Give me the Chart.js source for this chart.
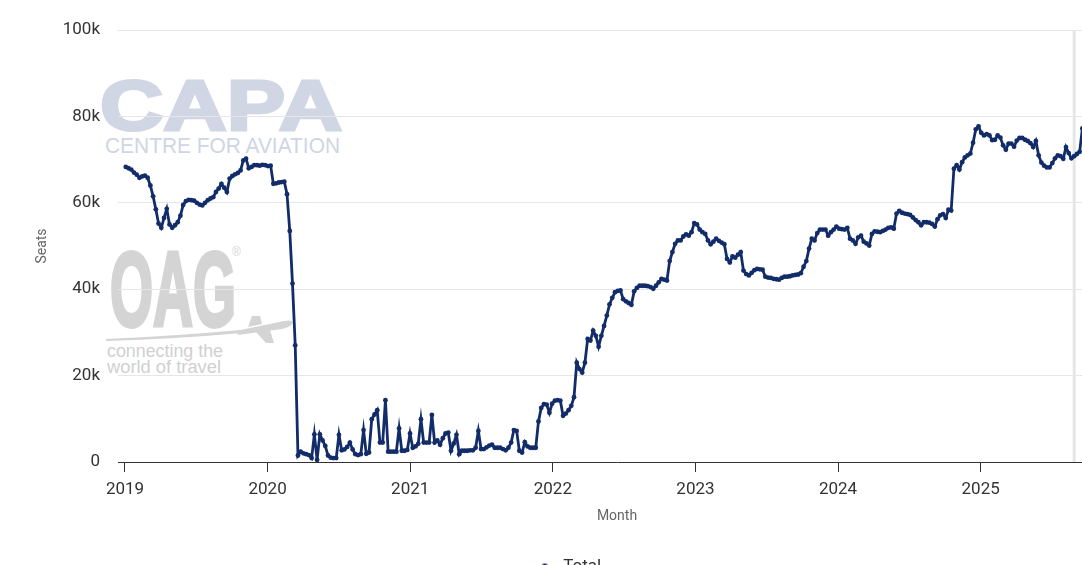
<!DOCTYPE html>
<html>
<head>
<meta charset="utf-8">
<title>Seats</title>
<script src="https://cdn.jsdelivr.net/npm/chart.js@4.4.1/dist/chart.umd.min.js"></script>
<style>
  html, body { margin: 0; padding: 0; background: #fff; overflow: hidden; }
  #wrap { position: relative; width: 1140px; height: 585px; }
  #wrap svg, #wrap canvas { position: absolute; left: 0; top: 0; }
</style>
</head>
<body>
<div id="wrap">
  <!-- marcas d'agua CAPA / OAG -->
  <svg width="1140" height="585" xmlns="http://www.w3.org/2000/svg">
    <text x="100" y="130" font-family="Liberation Sans, Arial, sans-serif" font-weight="bold" font-size="70"
          textLength="242" lengthAdjust="spacingAndGlyphs" fill="#d0d6e4" stroke="#d0d6e4" stroke-width="3">CAPA</text>
    <polygon points="327,93 348,68 333,86" fill="#f6b9b9"/>
    <text x="105" y="153" font-family="Liberation Sans, Arial, sans-serif" font-size="22"
          textLength="235" lengthAdjust="spacingAndGlyphs" fill="#cfd5e3">CENTRE FOR AVIATION</text>
    <text x="110" y="326" font-family="Liberation Sans, Arial, sans-serif" font-weight="bold" font-size="106"
          textLength="126" lengthAdjust="spacingAndGlyphs" fill="#d4d4d4" stroke="#d4d4d4" stroke-width="4">OAG</text>
    <text x="232" y="256" font-family="Liberation Sans, Arial, sans-serif" font-size="12" fill="#d4d4d4">®</text>
    <path d="M106,339 Q175,336 240,330 L242,333 Q175,339 106,341 Z" fill="#d4d4d4"/>
    <path d="M236,331 L284,321 Q294,319 292,324 Q290,327 282,329 L238,335 Z" fill="#d4d4d4"/>
    <path d="M248,327 L252,316 L260,316 L262,324 Z" fill="#d4d4d4"/>
    <path d="M255,331 L270,330 L274,343 L266,343 Z" fill="#d4d4d4"/>
    <text x="107" y="357" font-family="Liberation Sans, Arial, sans-serif" font-size="18"
          textLength="116" lengthAdjust="spacingAndGlyphs" fill="#d0d0d0">connecting the</text>
    <text x="107" y="373" font-family="Liberation Sans, Arial, sans-serif" font-size="18"
          textLength="114" lengthAdjust="spacingAndGlyphs" fill="#d0d0d0">world of travel</text>
  </svg>
  <canvas id="grafico" width="1140" height="585"></canvas>
</div>
<script>
// assentos semanais (milhares)
const seats2019 = [68.3, 68.0, 67.7, 67.0, 66.5, 65.8, 66.1, 66.3, 65.8, 64.0, 61.5, 58.5, 55.2, 54.2, 56.5, 58.6, 55.0, 54.2, 54.8, 55.5,
    57.0, 59.5, 60.4, 60.7, 60.6, 60.5, 60.0, 59.6, 59.4, 60.0, 60.6, 61.0, 61.3, 62.5, 63.3, 64.4, 63.5, 62.5, 65.6, 66.2,
    66.6, 66.9, 67.5, 69.8, 70.2, 68.0, 68.3, 68.7, 68.7, 68.6, 68.8, 68.7];
const seats2020 = [68.5, 68.6, 64.4, 64.5, 64.7, 64.8, 64.9, 62.0, 53.5, 41.3, 27.0, 1.5, 2.4, 2.0, 1.8, 1.6, 0.9, 6.4, 0.5, 6.4,
    5.0, 3.7, 1.5, 1.0, 0.9, 0.9, 6.3, 2.7, 2.9, 3.5, 4.5, 2.9, 1.8, 1.6, 1.8, 7.4, 1.9, 2.2, 9.9, 11.0,
    12.0, 4.5, 4.5, 14.3, 2.4, 2.4, 2.4, 2.4, 7.8, 2.6, 2.6, 2.8, 6.6];
const seats2021 = [3.3, 3.6, 4.2, 9.9, 4.5, 4.5, 4.5, 10.9, 4.5, 5.0, 4.0, 5.5, 6.6, 6.8, 2.6, 4.3, 6.3, 1.8, 2.6, 2.6,
    2.6, 2.7, 2.7, 3.3, 7.2, 3.0, 3.0, 3.4, 3.8, 4.0, 3.3, 3.3, 3.3, 3.0, 2.7, 3.3, 4.5, 7.4, 7.2, 2.6,
    2.2, 4.6, 3.6, 3.3, 3.3, 3.3, 9.4, 12.5, 13.4, 13.3, 11.4, 13.5];
const seats2022 = [14.2, 14.3, 14.2, 10.7, 11.2, 12.0, 13.0, 15.0, 23.0, 21.5, 20.7, 23.0, 28.5, 28.1, 30.4, 29.2, 26.7, 29.2, 31.5, 33.9,
    36.5, 38.0, 39.3, 39.6, 39.7, 37.7, 37.2, 36.8, 36.4, 39.5, 40.3, 40.8, 40.8, 40.8, 40.7, 40.5, 40.1, 40.8, 41.6, 42.4,
    42.2, 42.0, 46.5, 48.6, 50.5, 51.3, 51.3, 52.2, 52.7, 52.4, 53.2, 55.3];
const seats2023 = [55.0, 53.8, 53.2, 52.8, 51.3, 50.4, 51.0, 51.7, 51.2, 50.8, 50.4, 47.0, 46.2, 47.6, 47.3, 48.0, 48.6, 44.3, 43.5, 43.2,
    43.8, 44.4, 44.7, 44.6, 44.5, 42.9, 42.7, 42.6, 42.4, 42.3, 42.2, 42.6, 42.9, 42.9, 43.0, 43.2, 43.3, 43.4, 43.7, 45.2,
    46.5, 49.4, 51.7, 51.3, 53.0, 53.8, 53.8, 53.8, 52.4, 53.2, 53.8, 54.5];
const seats2024 = [54.0, 53.9, 53.8, 54.2, 51.7, 51.3, 50.5, 52.0, 52.4, 51.0, 50.6, 50.1, 52.8, 53.4, 53.3, 53.2, 53.5, 53.8, 54.2, 54.3,
    54.0, 57.5, 58.1, 57.7, 57.5, 57.4, 57.2, 56.6, 56.0, 55.5, 54.8, 55.5, 55.5, 55.4, 55.1, 54.5, 56.2, 57.1, 57.4, 56.5,
    58.4, 58.2, 67.9, 68.7, 67.7, 69.4, 70.5, 71.0, 71.4, 73.9, 77.0, 77.7];
const seats2025 = [76.2, 75.6, 75.9, 75.6, 74.5, 74.6, 75.6, 75.1, 73.3, 72.3, 73.7, 73.7, 73.0, 74.4, 75.0, 75.0, 74.6, 74.3, 73.8, 72.9,
    74.3, 71.0, 69.3, 68.6, 68.2, 68.2, 69.2, 70.3, 71.0, 70.8, 70.2, 72.9, 71.5, 70.3, 70.8, 71.3, 71.8, 77.2];

const yearTicks = [2019, 2020, 2021, 2022, 2023, 2024, 2025];
const seatTicks = [0, 20, 40, 60, 80, 100];
const xMin = 2018.951, xMax = 2025.949;
const firstWeekDay = 2;   // primeira semana: 3 jan 2019
const hoverWeek = 347;    // linha vertical do cursor

const azul = '#122c6a';

const semanas = [].concat(seats2019, seats2020, seats2021, seats2022, seats2023, seats2024, seats2025);
const pontos = semanas.map((v, i) => ({ x: 2019 + (firstWeekDay + 7 * i) / 365.25, y: v }));

// icone da legenda: linha com marcador
const icone = document.createElement('canvas');
icone.width = 20; icone.height = 10;
const ic = icone.getContext('2d');
ic.strokeStyle = azul; ic.lineWidth = 2;
ic.beginPath(); ic.moveTo(0, 5); ic.lineTo(20, 5); ic.stroke();
ic.fillStyle = azul;
ic.beginPath(); ic.arc(10, 5, 3, 0, Math.PI * 2); ic.fill();

const crosshair = {
    id: 'crosshair',
    beforeDatasetsDraw(chart) {
        const { ctx, chartArea, scales } = chart;
        const x = scales.x.getPixelForValue(pontos[hoverWeek].x);
        ctx.save();
        ctx.strokeStyle = '#e6e6e6';
        ctx.lineWidth = 3;
        ctx.beginPath();
        ctx.moveTo(x, chartArea.top);
        ctx.lineTo(x, chartArea.bottom);
        ctx.stroke();
        ctx.restore();
    }
};

Chart.defaults.font.family = 'Roboto, "Liberation Sans", sans-serif';

new Chart(document.getElementById('grafico').getContext('2d'), {
    type: 'line',
    data: {
        datasets: [{
            label: 'Total',
            data: pontos,
            borderColor: azul,
            backgroundColor: azul,
            borderWidth: 2.8,
            pointRadius: 2.4,
            pointBorderWidth: 0,
            pointBackgroundColor: azul,
            tension: 0,
            fill: false
        }]
    },
    options: {
        responsive: false,
        animation: false,
        events: [],
        layout: { padding: { top: 30, left: 20, right: 24, bottom: 0 } },
        plugins: {
            tooltip: { enabled: false },
            legend: {
                position: 'bottom',
                labels: {
                    usePointStyle: true,
                    pointStyle: icone,
                    pointStyleWidth: 20,
                    color: '#333',
                    font: { size: 17 },
                    padding: 10
                }
            }
        },
        scales: {
            x: {
                type: 'linear',
                min: xMin,
                max: xMax,
                afterBuildTicks: s => { s.ticks = yearTicks.map(v => ({ value: v })); },
                afterFit: s => { s.height = 86; },
                ticks: {
                    color: '#333',
                    font: { size: 17 },
                    padding: 8,
                    maxRotation: 0,
                    autoSkip: false,
                    callback: v => String(v)
                },
                grid: { drawOnChartArea: false, drawTicks: true, tickLength: 10, color: '#333', lineWidth: 1 },
                border: { display: true, color: '#333', width: 1 },
                title: { display: true, text: 'Month', color: '#666', font: { size: 14 }, padding: { top: 0, bottom: 23 } }
            },
            y: {
                min: 0,
                max: 100,
                afterBuildTicks: s => { s.ticks = seatTicks.map(v => ({ value: v })); },
                afterFit: s => { s.width = 98; },
                ticks: {
                    color: '#333',
                    font: { size: 17 },
                    padding: 18,
                    callback: v => v === 0 ? '0' : v + 'k'
                },
                grid: { color: '#e6e6e6', lineWidth: 1, drawTicks: false },
                border: { display: false },
                title: { display: true, text: 'Seats', color: '#666', font: { size: 14 }, padding: { top: 14, bottom: 0 } }
            }
        }
    },
    plugins: [crosshair]
});
</script>
</body>
</html>
